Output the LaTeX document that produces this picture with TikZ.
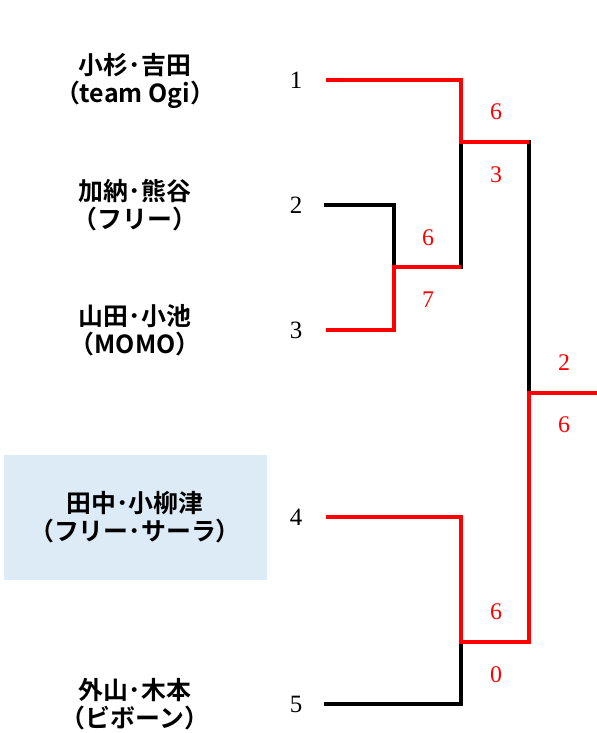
\documentclass[tikz,border=0pt]{standalone}
\usepackage{fontspec}
\setmainfont{Liberation Serif}
\newfontfamily\jpbold{Noto Sans CJK JP Bold}
\definecolor{boxblue}{RGB}{221,235,247}
\definecolor{winred}{RGB}{255,0,0}
\begin{document}
\begin{tikzpicture}[x=1bp,y=-1bp,
  namebox/.style={align=center,font=\jpbold\fontsize{25}{28}\selectfont,inner sep=0pt},
  seed/.style={font=\fontsize{25}{25}\selectfont,inner sep=0pt},
  score/.style={font=\fontsize{24}{24}\selectfont,text=winred,inner sep=0pt},
  lose/.style={draw=black,line width=4bp,line join=miter,line cap=rect},
  win/.style={draw=winred,line width=4bp,line join=miter}]
\useasboundingbox (0,0) rectangle (597,733);
\fill[boxblue] (4,455) rectangle (267,580);
% names
\node[namebox] (n1) at (135,81) {小杉･吉田\\（team Ogi）};
\node[namebox] (n2) at (135,205) {加納･熊谷\\（フリー）};
\node[namebox] (n3) at (135,330) {山田･小池\\（MOMO）};
\node[namebox] (n4) at (135,517) {田中･小柳津\\（フリー･サーラ）};
\node[namebox] (n5) at (135,704) {外山･木本\\（ビボーン）};
% seeds
\node[seed] (k1) at (296,80) {1};
\node[seed] (k2) at (296,205) {2};
\node[seed] (k3) at (296,330) {3};
\node[seed] (k4) at (296,517) {4};
\node[seed] (k5) at (296,704) {5};
% bracket coordinates
\coordinate (s1) at (326,80);
\coordinate (s2) at (326,205);
\coordinate (s3) at (326,330);
\coordinate (s4) at (326,517);
\coordinate (s5) at (326,704);
\coordinate (m23) at (394,267);
\coordinate (m23r) at (461,267);
\coordinate (m1) at (461,142);
\coordinate (m1r) at (529,142);
\coordinate (m45) at (461,642);
\coordinate (m45r) at (529,642);
\coordinate (f) at (529,393);
\coordinate (champ) at (597,393);
% losing lines
\draw[lose] (s2) -| (m23);
\draw[lose] (m23r) -- (m1);
\draw[lose] (m1r) -- (f);
\draw[lose] (s5) -| (m45);
% winning lines
\draw[win] (s3) -| (m23) -- (m23r);
\draw[win] (s1) -| (m1) -- (m1r);
\draw[win] (s4) -| (m45) -- (m45r) -- (f) -- (champ);
% scores
\node[score] (a1) at (496,112) {6};
\node[score] (a2) at (496,175) {3};
\node[score] (b1) at (428,238) {6};
\node[score] (b2) at (428,300) {7};
\node[score] (c1) at (564,363) {2};
\node[score] (c2) at (564,425) {6};
\node[score] (d1) at (496,612) {6};
\node[score] (d2) at (496,675) {0};
\end{tikzpicture}
\end{document}
